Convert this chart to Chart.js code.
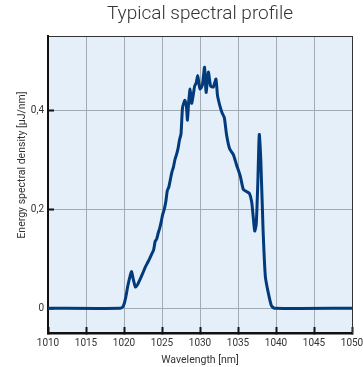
<!DOCTYPE html>
<html>
<head>
<meta charset="utf-8">
<script src="https://cdn.jsdelivr.net/npm/chart.js@4.4.1/dist/chart.umd.min.js"></script>
<style>
  html, body { margin: 0; padding: 0; background: #fff; }
  #wrap { width: 363px; height: 367px; }
</style>
</head>
<body>
<div id="wrap"><canvas id="myChart" width="363" height="367"></canvas></div>
<script>
// spectrum
const wavelengths = [
  1010, 1019.5, 1019.9, 1020.2, 1020.5, 1020.8, 1021.0, 1021.2, 1021.5, 1021.8,
  1022.1, 1022.5, 1022.8, 1023.2, 1023.6, 1023.9, 1024.1, 1024.3, 1024.5, 1024.7,
  1024.9, 1025.1, 1025.3, 1025.5, 1025.7, 1025.9, 1026.1, 1026.3, 1026.5, 1026.7,
  1026.9, 1027.1, 1027.3, 1027.5, 1027.7, 1028.0, 1028.2, 1028.35, 1028.5, 1028.7,
  1028.9, 1029.1, 1029.3, 1029.5, 1029.7, 1029.85, 1030.0, 1030.3, 1030.6, 1030.8,
  1031.1, 1031.4, 1031.75, 1032.1, 1032.3, 1032.6, 1032.9, 1033.2, 1033.5, 1033.9,
  1034.4, 1034.8, 1035.3, 1035.7, 1036.1, 1036.5, 1036.8, 1037.0, 1037.2, 1037.4,
  1037.6, 1037.8, 1038.0, 1038.3, 1038.6, 1039.0, 1039.4, 1039.8, 1050
];
const energy = [
  0, 0, 0.004, 0.02, 0.045, 0.065, 0.074, 0.06, 0.043, 0.048,
  0.058, 0.072, 0.083, 0.095, 0.108, 0.118, 0.135, 0.14, 0.152, 0.162,
  0.175, 0.19, 0.2, 0.215, 0.238, 0.245, 0.26, 0.275, 0.285, 0.30,
  0.31, 0.322, 0.34, 0.352, 0.405, 0.42, 0.41, 0.38, 0.415, 0.443,
  0.414, 0.43, 0.449, 0.455, 0.47, 0.455, 0.443, 0.45, 0.487, 0.436,
  0.477, 0.449, 0.447, 0.463, 0.43, 0.41, 0.395, 0.385, 0.35, 0.322,
  0.31, 0.29, 0.267, 0.24, 0.236, 0.232, 0.215, 0.185, 0.156, 0.17,
  0.25, 0.351, 0.30, 0.158, 0.064, 0.03, 0.005, 0, 0
];
const xTicks = [1010, 1015, 1020, 1025, 1030, 1035, 1040, 1045, 1050];
const yTicks = [0, 0.2, 0.4];

const chartTitle = 'Typical spectral profile';
const xTitle = 'Wavelength [nm]';
const yTitle = 'Energy spectral density [µJ/nm]';

const points = wavelengths.map((w, i) => ({ x: w, y: energy[i] }));

// light blue plot background + rotated y title
const plotFrame = {
    id: 'plotFrame',
    beforeDraw(chart) {
        const { ctx, chartArea: a } = chart;
        ctx.save();
        ctx.fillStyle = '#e5eff9';
        ctx.fillRect(a.left, a.top, a.right - a.left, a.bottom - a.top);
        ctx.restore();
    },
    afterDraw(chart) {
        const ctx = chart.ctx;
        ctx.save();
        ctx.translate(22, 165);
        ctx.rotate(-Math.PI / 2);
        ctx.font = '10.5px Roboto';
        ctx.fillStyle = '#333';
        ctx.textAlign = 'center';
        ctx.textBaseline = 'middle';
        ctx.fillText(yTitle, 0, 0);
        ctx.restore();
    }
};

const tickFont = { family: 'Roboto', size: 10 };

const ctx = document.getElementById('myChart').getContext('2d');
const myChart = new Chart(ctx, {
    type: 'line',
    data: {
        datasets: [
            {
                data: points,
                borderColor: '#023b7c',
                borderWidth: 3,
                pointRadius: 0,
                tension: 0.2,
                borderJoinStyle: 'round',
                fill: false
            }
        ]
    },
    options: {
        responsive: false,
        animation: false,
        layout: { padding: 0 },
        plugins: {
            legend: { display: false },
            tooltip: { enabled: false },
            title: { display: false }
        },
        scales: {
            x: {
                type: 'linear',
                position: 'bottom',
                min: 1010,
                max: 1050,
                afterBuildTicks: s => { s.ticks = xTicks.map(v => ({ value: v })); },
                afterFit: s => { s.height = 34; s.paddingLeft = 0; s.paddingRight = 0; },
                grid: { color: '#a2aab4', lineWidth: 1, tickLength: -6, tickColor: '#111', tickWidth: 2 },
                border: { color: '#111', width: 2.5 },
                ticks: { font: tickFont, color: '#333', padding: 10, maxRotation: 0, autoSkip: false, callback: v => String(v) },
                title: { display: true, text: xTitle, font: { family: 'Roboto', size: 10.5 }, color: '#333', padding: { top: 0, bottom: 0 } }
            },
            x2: {
                type: 'linear',
                position: 'top',
                min: 1010,
                max: 1050,
                afterFit: s => { s.height = 36; s.paddingLeft = 0; s.paddingRight = 0; },
                grid: { drawOnChartArea: false, drawTicks: false },
                border: { color: '#333', width: 1 },
                ticks: { display: false },
                title: { display: true, text: chartTitle, font: { family: 'Roboto', size: 19, weight: '300' }, color: '#333', padding: { top: 3, bottom: 0 } }
            },
            y: {
                type: 'linear',
                position: 'left',
                min: -0.05,
                max: 0.55,
                afterBuildTicks: s => { s.ticks = yTicks.map(v => ({ value: v })); },
                afterFit: s => { s.width = 48; s.paddingTop = 0; s.paddingBottom = 0; },
                grid: { color: '#a2aab4', lineWidth: 1, tickLength: -6, tickColor: '#111', tickWidth: 2 },
                border: { color: '#111', width: 2 },
                ticks: {
                    font: tickFont,
                    color: '#333',
                    padding: 10,
                    callback: v => String(v).replace('.', ',')
                }
            },
            y2: {
                type: 'linear',
                position: 'right',
                min: -0.05,
                max: 0.55,
                afterFit: s => { s.width = 11; s.paddingTop = 0; s.paddingBottom = 0; },
                grid: { drawOnChartArea: false, drawTicks: false },
                border: { color: '#333', width: 1 },
                ticks: { display: false }
            }
        }
    },
    plugins: [plotFrame]
});
</script>
</body>
</html>
